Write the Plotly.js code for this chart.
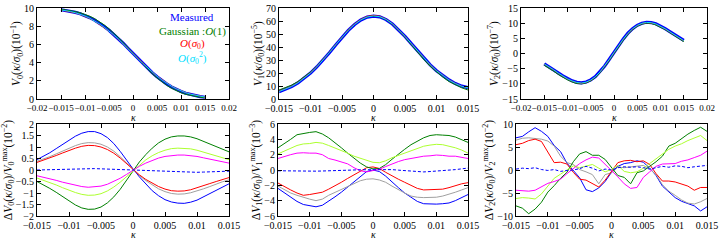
<!DOCTYPE html>
<html><head><meta charset="utf-8">
<script src="https://cdn.plot.ly/plotly-3.0.1.min.js"></script>
<style>html,body{margin:0;padding:0;background:#fff}#chart{width:720px;height:240px}</style>
</head><body><div id="chart"></div>
<script>
// kappa grid (shared x values)
const kappa = [-0.015,-0.014,-0.013,-0.012,-0.011,-0.010,-0.009,-0.008,-0.007,-0.006,-0.005,-0.004,-0.003,-0.002,-0.001,0,
  0.001,0.002,0.003,0.004,0.005,0.006,0.007,0.008,0.009,0.010,0.011,0.012,0.013,0.014,0.015];

const seriesNames = ["Measured", "Gaussian :<i>O</i>(1)", "<i>O</i>(<i>σ</i><sub>0</sub>)", "<i>O</i>(<i>σ</i><sub>0</sub><sup>2</sup>)"];

// ---- top row: V0 (1e-1) ----
const V0_measured = [9.81,9.74,9.64,9.52,9.37,9.18,8.94,8.67,8.34,7.97,7.56,7.11,6.62,6.10,5.55,5.00,4.45,3.90,3.38,2.89,2.44,2.03,1.66,1.33,1.06,0.82,0.63,0.48,0.36,0.26,0.19];
const V0_gauss    = [9.86,9.80,9.72,9.61,9.48,9.31,9.09,8.83,8.51,8.14,7.72,7.25,6.74,6.18,5.60,5.00,4.42,3.83,3.29,2.77,2.31,1.89,1.51,1.18,0.92,0.69,0.51,0.38,0.27,0.19,0.13];
const V0_sigma1   = [9.78,9.70,9.59,9.46,9.30,9.10,8.85,8.57,8.23,7.86,7.46,7.02,6.55,6.05,5.52,5.00,4.47,3.94,3.44,2.96,2.52,2.12,1.75,1.42,1.14,0.90,0.70,0.54,0.41,0.30,0.22];
const V0_sigma2   = [9.79,9.72,9.61,9.48,9.32,9.12,8.87,8.59,8.25,7.88,7.48,7.04,6.56,6.06,5.53,5.00,4.46,3.93,3.43,2.95,2.51,2.11,1.74,1.41,1.13,0.89,0.69,0.53,0.40,0.29,0.21];

// ---- top row: V1 (1e-5) ----
const V1_measured = [5.6,7.3,9.5,12.3,15.8,19.9,24.6,29.9,35.6,41.6,47.4,52.8,57.3,60.8,63.0,63.8,63.2,61.1,57.7,53.3,48.2,42.6,36.9,31.4,26.3,21.8,17.9,14.6,11.9,9.9,8.7];
const V1_gauss    = [6.9,8.6,10.7,13.4,16.8,20.7,25.2,30.3,35.9,41.8,47.6,53.0,57.5,61.0,63.2,64.0,63.2,61.0,57.5,53.0,47.6,41.8,35.9,30.3,25.2,20.7,16.8,13.4,10.7,8.6,6.9];
const V1_sigma1   = [5.9,7.6,9.8,12.6,16.1,20.2,24.9,30.1,35.8,41.8,47.6,53.1,57.7,61.2,63.5,64.3,63.6,61.4,57.9,53.4,48.2,42.6,36.9,31.4,26.3,21.9,18.0,14.7,12.0,9.9,8.5];
const V1_sigma2   = [5.7,7.4,9.6,12.4,15.9,20.0,24.7,30.0,35.7,41.7,47.5,52.9,57.4,60.9,63.1,63.9,63.3,61.2,57.8,53.3,48.2,42.6,36.9,31.4,26.3,21.8,17.9,14.6,11.9,9.8,8.6];

// ---- top row: V2 (1e-7) ----
const V2_measured = [-3.4,-4.3,-5.3,-6.4,-7.4,-8.3,-9.0,-9.5,-9.7,-9.4,-8.7,-7.6,-6.0,-4.1,-1.9,0.4,2.7,4.8,6.7,8.2,9.3,10.0,10.3,10.2,9.8,9.1,8.2,7.2,6.2,5.2,4.3];
const V2_gauss    = [-3.9,-4.8,-5.8,-6.9,-7.9,-8.7,-9.4,-9.9,-10.0,-9.7,-9.0,-7.9,-6.3,-4.4,-2.3,0.0,2.3,4.4,6.3,7.9,9.0,9.7,10.0,9.9,9.4,8.7,7.9,6.9,5.8,4.8,3.9];
const V2_sigma1   = [-3.5,-4.4,-5.4,-6.5,-7.5,-8.4,-9.1,-9.6,-9.8,-9.5,-8.8,-7.7,-6.1,-4.2,-2.0,0.3,2.6,4.7,6.6,8.1,9.2,9.9,10.2,10.1,9.7,9.0,8.1,7.1,6.1,5.1,4.2];
const V2_sigma2   = [-3.45,-4.35,-5.35,-6.45,-7.45,-8.35,-9.05,-9.55,-9.75,-9.45,-8.75,-7.65,-6.05,-4.15,-1.95,0.35,2.65,4.75,6.65,8.15,9.25,9.95,10.25,10.15,9.75,9.05,8.15,7.15,6.15,5.15,4.25];

// ---- bottom row: dV0/V0max (1e-2) ----
const dV0_blue    = [0.45,0.59,0.75,0.93,1.12,1.30,1.47,1.60,1.67,1.67,1.58,1.41,1.15,0.81,0.42,0.05,-0.30,-0.62,-0.90,-1.12,-1.29,-1.39,-1.44,-1.45,-1.40,-1.31,-1.17,-1.03,-0.88,-0.73,-0.60];
const dV0_gray    = [0.38,0.47,0.58,0.70,0.82,0.95,1.06,1.15,1.19,1.18,1.12,1.00,0.82,0.58,0.30,0.02,-0.24,-0.46,-0.66,-0.82,-0.94,-1.02,-1.05,-1.04,-0.99,-0.92,-0.82,-0.72,-0.61,-0.51,-0.43];
const dV0_red     = [0.33,0.42,0.52,0.63,0.74,0.85,0.95,1.03,1.07,1.06,1.00,0.89,0.73,0.52,0.27,0.00,-0.21,-0.41,-0.58,-0.72,-0.83,-0.90,-0.92,-0.91,-0.86,-0.78,-0.68,-0.59,-0.50,-0.41,-0.33];
const dV0_green   = [-0.50,-0.64,-0.80,-0.97,-1.16,-1.35,-1.52,-1.65,-1.71,-1.70,-1.61,-1.43,-1.17,-0.84,-0.45,-0.05,0.35,0.67,0.95,1.18,1.34,1.44,1.48,1.48,1.44,1.36,1.25,1.13,1.01,0.90,0.79];
const dV0_yellow  = [-0.35,-0.44,-0.54,-0.65,-0.77,-0.88,-0.98,-1.06,-1.10,-1.09,-1.03,-0.91,-0.74,-0.53,-0.28,-0.02,0.23,0.44,0.62,0.76,0.86,0.93,0.95,0.95,0.92,0.86,0.78,0.70,0.61,0.53,0.45];
const dV0_magenta = [-0.25,-0.31,-0.38,-0.45,-0.53,-0.60,-0.67,-0.72,-0.75,-0.74,-0.70,-0.62,-0.50,-0.36,-0.19,0.00,0.16,0.30,0.42,0.52,0.59,0.63,0.65,0.65,0.63,0.59,0.53,0.47,0.41,0.35,0.30];
const dV0_dashed  = [0.00,0.01,0.01,0.02,0.03,0.04,0.04,0.05,0.06,0.06,0.05,0.04,0.03,0.02,0.00,-0.02,-0.04,-0.05,-0.06,-0.07,-0.08,-0.09,-0.10,-0.10,-0.10,-0.10,-0.09,-0.08,-0.07,-0.06,-0.05];

// ---- bottom row: dV1/V1max (1e-3) ----
const dV1_blue    = [-2.4,-3.0,-3.6,-4.1,-4.5,-4.7,-4.8,-4.6,-4.1,-3.5,-2.9,-2.2,-1.5,-0.8,-0.2,0.0,-0.2,-0.8,-1.6,-2.3,-3.0,-3.6,-4.1,-4.4,-4.45,-4.45,-4.4,-4.3,-4.0,-3.6,-3.2];
const dV1_gray    = [-2.1,-2.6,-3.0,-3.3,-3.6,-3.8,-4.0,-3.8,-3.3,-2.9,-2.5,-2.1,-1.7,-1.4,-1.2,-1.15,-1.3,-1.6,-2.1,-2.6,-3.0,-3.4,-3.55,-3.6,-3.6,-3.55,-3.4,-3.2,-2.9,-2.6,-2.3];
const dV1_red     = [-1.7,-2.2,-2.6,-3.0,-3.3,-3.2,-3.0,-2.9,-2.5,-2.1,-1.6,-1.1,-0.6,-0.1,0.3,0.4,0.2,-0.3,-0.8,-1.2,-1.6,-2.0,-2.4,-2.6,-2.55,-2.55,-2.5,-2.3,-2.0,-1.8,-1.65];
const dV1_green   = [2.9,3.4,4.0,4.6,4.8,4.9,5.0,4.7,4.2,3.6,2.9,2.2,1.5,0.9,0.4,0.15,0.2,0.7,1.4,2.1,2.7,3.3,3.8,4.2,4.5,4.6,4.55,4.5,4.3,4.0,3.6];
const dV1_yellow  = [2.1,2.5,2.9,3.2,3.4,3.45,3.6,3.5,3.2,2.9,2.6,2.2,1.8,1.5,1.2,1.0,0.95,1.2,1.6,1.9,2.3,2.6,2.9,3.1,3.25,3.35,3.3,3.1,2.9,2.6,2.2];
const dV1_magenta = [1.5,1.8,2.0,2.2,2.25,2.2,2.2,2.0,1.5,1.3,1.1,0.8,0.3,-0.1,-0.25,-0.1,0.1,0.45,0.8,1.1,1.35,1.5,1.7,1.8,1.85,1.95,1.9,1.8,1.8,1.65,1.5];
const dV1_dashed  = [-0.1,-0.12,-0.15,-0.15,-0.15,-0.15,-0.15,-0.13,-0.12,-0.08,-0.05,-0.02,0.0,0.03,0.05,0.05,0.1,0.08,0.05,-0.02,-0.1,-0.15,-0.2,-0.25,-0.2,-0.15,-0.1,-0.02,0.05,0.15,0.25];

// ---- bottom row: dV2/V2max (1e-2) ----
const dV2_blue    = [7.0,7.3,8.3,9.2,8.4,7.3,5.3,4.0,1.5,-0.2,-1.7,-4.3,-4.7,-3.9,-2.5,-0.5,0.8,1.4,1.6,2.0,1.7,0.4,-1.2,-3.5,-4.8,-6.0,-6.8,-7.3,-7.8,-8.9,-8.0];
const dV2_gray    = [6.5,6.9,7.0,6.9,6.7,6.3,5.2,3.0,1.6,1.2,0.1,-0.4,-1.0,-3.0,-1.0,-0.6,0.6,0.5,0.7,0.9,1.0,0.2,-1.0,-3.2,-4.6,-5.5,-6.5,-7.2,-7.4,-6.9,-6.2];
const dV2_red     = [5.5,5.8,6.4,6.7,6.2,4.0,1.6,1.7,1.3,-0.5,-2.0,-2.2,-3.0,-3.7,-2.2,-0.3,1.6,2.0,2.1,1.8,2.0,1.2,-0.8,-2.4,-2.4,-2.6,-3.0,-3.5,-4.4,-3.8,-3.8];
const dV2_green   = [-7.8,-8.3,-9.5,-8.5,-7.0,-4.8,-3.4,-1.8,-0.5,1.8,3.5,4.0,3.2,3.2,2.3,0.5,-1.2,-1.6,-3.0,-0.6,-0.2,0.8,1.8,3.0,5.2,5.8,6.8,7.8,8.6,9.3,8.4];
const dV2_yellow  = [-6.2,-6.0,-6.1,-6.3,-5.2,-3.6,-1.8,-0.9,0.0,0.9,0.5,0.8,1.2,0.4,-0.4,0.1,1.0,-0.3,-0.6,-0.4,0.4,1.4,2.4,3.5,4.5,5.2,5.7,6.4,6.9,7.5,6.4];
const dV2_magenta = [-4.4,-4.5,-4.6,-4.4,-3.7,-2.9,-2.5,-2.0,-0.8,0.3,1.4,2.2,2.8,2.6,1.3,-0.2,-1.5,-3.0,-4.0,-3.8,-1.6,-0.4,0.8,1.3,1.4,1.4,1.9,2.2,2.7,3.2,4.1];
const dV2_dashed  = [0.2,0.4,0.3,0.5,0.1,-0.1,0.1,-0.3,-0.1,0.0,0.3,0.8,0.4,-0.2,0.2,0.0,0.5,0.7,0.6,0.7,0.5,0.2,0.5,0.8,0.6,0.9,0.8,0.5,0.7,0.9,1.0];

// ---- tick labels ----
const xTicksWide = [-0.02,-0.015,-0.01,-0.005,0,0.005,0.01,0.015,0.02];
const xLabelsWide = ["−0.02","−0.015","−0.01","−0.005","0","0.005","0.01","0.015","0.02"];
const xTicksNarrow = [-0.015,-0.01,-0.005,0,0.005,0.01,0.015];
const xLabelsNarrow = ["−0.015","−0.01","−0.005","0","0.005","0.01","0.015"];
const yTicksV0 = [0,2,4,6,8,10];
const yTicksV1 = [0,10,20,30,40,50,60,70];
const yTicksV2 = [-15,-10,-5,0,5,10,15];
const yLabelsV2 = ["−15","−10","−5","0","5","10","15"];
const yTicksD0 = [-2,-1.5,-1,-0.5,0,0.5,1,1.5,2];
const yLabelsD0 = ["−2","−1.5","−1","−0.5","0","0.5","1","1.5","2"];
const yTicksD1 = [-6,-4,-2,0,2,4,6];
const yLabelsD1 = ["−6","−4","−2","0","2","4","6"];
const yTicksD2 = [-10,-5,0,5,10];
const yLabelsD2 = ["−10","−5","0","5","10"];
const xTitle = "<i>κ</i>";

const F = "Liberation Serif, DejaVu Serif, serif";
const C = {blue:"#0000ff", green:"#008000", red:"#ff0000", cyan:"#00e0ff", gray:"#a0a0a0", yellow:"#adff2f", magenta:"#ff00ff"};

const traces = [];
function line(xa, ya, y, color, width, dash) {
  traces.push({type:"scatter", mode:"lines", x:kappa, y:y, xaxis:xa, yaxis:ya,
    line:{color:color, width:width, dash:dash||"solid"}, hoverinfo:"skip"});
}
function topPanel(n, meas, gauss, s1, s2) {
  line("x"+n, "y"+n, meas, C.blue, 3.2);
  line("x"+n, "y"+n, gauss, C.green, 1);
  line("x"+n, "y"+n, s1, C.red, 1);
  line("x"+n, "y"+n, s2, C.cyan, 1);
}
function bottomPanel(n, b, g, r, gr, yl, m, d) {
  line("x"+n, "y"+n, b, C.blue, 1);
  line("x"+n, "y"+n, g, C.gray, 1);
  line("x"+n, "y"+n, r, C.red, 1);
  line("x"+n, "y"+n, gr, C.green, 1);
  line("x"+n, "y"+n, yl, C.yellow, 1);
  line("x"+n, "y"+n, m, C.magenta, 1);
  line("x"+n, "y"+n, d, C.blue, 1, "3px,2px");
}
topPanel(1, V0_measured, V0_gauss, V0_sigma1, V0_sigma2);
topPanel(2, V1_measured, V1_gauss, V1_sigma1, V1_sigma2);
topPanel(3, V2_measured, V2_gauss, V2_sigma1, V2_sigma2);
bottomPanel(4, dV0_blue, dV0_gray, dV0_red, dV0_green, dV0_yellow, dV0_magenta, dV0_dashed);
bottomPanel(5, dV1_blue, dV1_gray, dV1_red, dV1_green, dV1_yellow, dV1_magenta, dV1_dashed);
bottomPanel(6, dV2_blue, dV2_gray, dV2_red, dV2_green, dV2_yellow, dV2_magenta, dV2_dashed);

function ax(domain, range, tv, tt, anchor, title, tickSize) {
  const a = {domain:domain, range:range, tickvals:tv, ticktext:tt, anchor:anchor,
    ticks:"inside", ticklen:4, tickwidth:1, tickcolor:"#000", tickangle:0,
    showline:true, linecolor:"#000", linewidth:1, mirror:"allticks",
    zeroline:false, showgrid:false, fixedrange:true,
    tickfont:{family:F, size:tickSize||10, color:"#000"}};
  if (title) a.title = {text:title, font:{family:F, size:11.5, color:"#000"}, standoff:0};
  return a;
}
const W = 720, H = 240;
const px = (a,b) => [a/W, b/W];
const py = (top,bot) => [1-bot/H, 1-top/H];
const rowTop = py(8,99), rowBot = py(124,216);

// x-axis titles placed just under each panel's tick labels
const xTitleAnn = [["x",117],["x2",117],["x3",117],["x4",234],["x5",234],["x6",234]].map(([xa,ypix]) => ({
  xref:xa+" domain", yref:"paper", x:0.5, y:1-ypix/H, text:xTitle, showarrow:false,
  xanchor:"center", yanchor:"middle", font:{family:F, size:10, color:"#000"}}));

const layout = {
  width:W, height:H, margin:{l:0,r:0,t:0,b:0},
  paper_bgcolor:"#fff", plot_bgcolor:"#fff", showlegend:false,
  font:{family:F, size:10, color:"#000"},
  xaxis:  ax(px(37,229), [-0.02,0.02], xTicksWide, xLabelsWide, "y", null, 9),
  yaxis:  ax(rowTop, [0,10], yTicksV0, yTicksV0.map(String), "x", "<i>V</i><sub>0</sub>(<i>κ</i>/<i>σ</i><sub>0</sub>)(10<sup>−1</sup>)"),
  xaxis2: ax(px(279,468), [-0.015,0.015], xTicksNarrow, xLabelsNarrow, "y2", null),
  yaxis2: ax(rowTop, [0,70], yTicksV1, yTicksV1.map(String), "x2", "<i>V</i><sub>1</sub>(<i>κ</i>/<i>σ</i><sub>0</sub>)(10<sup>−5</sup>)"),
  xaxis3: ax(px(521,707), [-0.02,0.02], xTicksWide, xLabelsWide, "y3", null, 9),
  yaxis3: ax(rowTop, [-15,15], yTicksV2, yLabelsV2, "x3", "<i>V</i><sub>2</sub>(<i>κ</i>/<i>σ</i><sub>0</sub>)(10<sup>−7</sup>)"),
  xaxis4: ax(px(37,229), [-0.015,0.015], xTicksNarrow, xLabelsNarrow, "y4", null),
  yaxis4: ax(rowBot, [-2,2], yTicksD0, yLabelsD0, "x4", "Δ<i>V</i><sub>0</sub>(<i>κ</i>/<i>σ</i><sub>0</sub>)/<i>V</i><sub>0</sub><sup>max</sup>(10<sup>−2</sup>)"),
  xaxis5: ax(px(278,468), [-0.015,0.015], xTicksNarrow, xLabelsNarrow, "y5", null),
  yaxis5: ax(rowBot, [-6,6], yTicksD1, yLabelsD1, "x5", "Δ<i>V</i><sub>1</sub>(<i>κ</i>/<i>σ</i><sub>0</sub>)/<i>V</i><sub>1</sub><sup>max</sup>(10<sup>−3</sup>)"),
  xaxis6: ax(px(516,707), [-0.015,0.015], xTicksNarrow, xLabelsNarrow, "y6", null),
  yaxis6: ax(rowBot, [-10,10], yTicksD2, yLabelsD2, "x6", "Δ<i>V</i><sub>2</sub>(<i>κ</i>/<i>σ</i><sub>0</sub>)/<i>V</i><sub>2</sub><sup>max</sup>(10<sup>−2</sup>)"),
  annotations: [
    {text:seriesNames[0], x:0.0123, y:9.0, color:C.blue},
    {text:seriesNames[1], x:0.0123, y:7.4, color:C.green},
    {text:seriesNames[2], x:0.0123, y:6.0, color:C.red},
    {text:seriesNames[3], x:0.0123, y:4.5, color:C.cyan}
  ].map(a => ({xref:"x", yref:"y", x:a.x, y:a.y, text:a.text, showarrow:false,
      xanchor:"center", yanchor:"middle", font:{family:F, size:11, color:a.color}})).concat(xTitleAnn)
};

Plotly.newPlot("chart", traces, layout, {staticPlot:true, displayModeBar:false});
</script>
</body></html>
